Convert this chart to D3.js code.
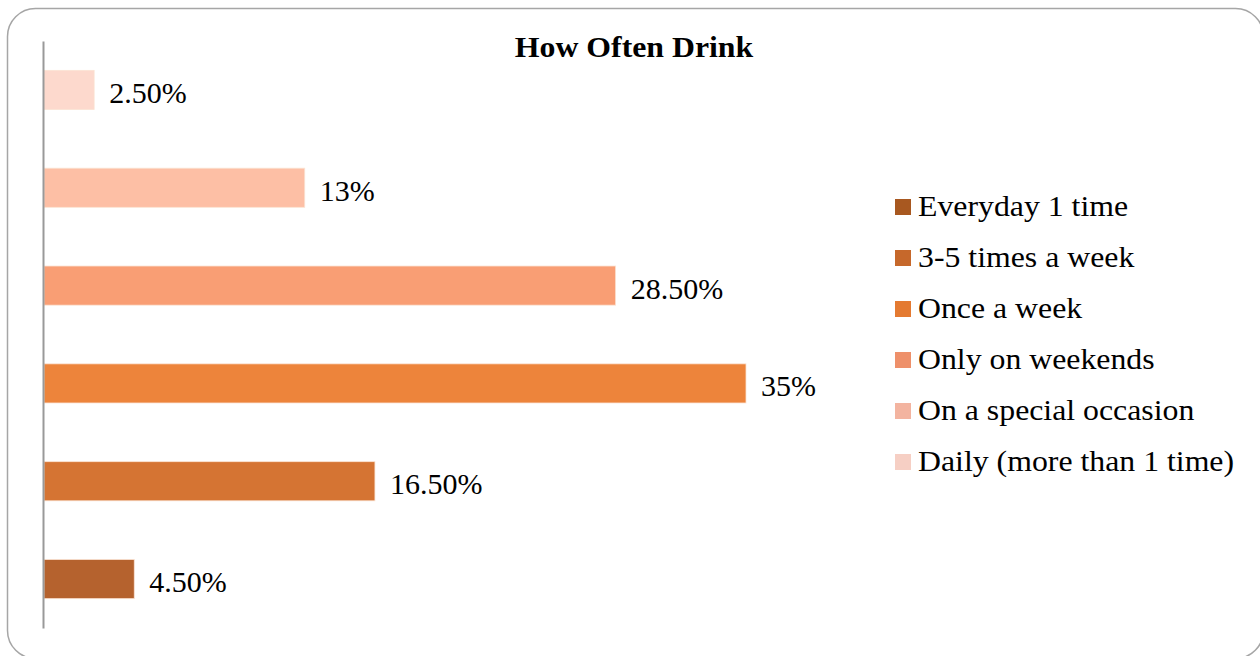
<!DOCTYPE html>
<html>
<head>
<meta charset="utf-8">
<script src="https://cdn.jsdelivr.net/npm/d3@7"></script>
<style>
  html, body { margin: 0; padding: 0; background: #fff; }
  svg { display: block; }
</style>
</head>
<body>
<svg id="chart" width="1260" height="656"></svg>
<script>
// Survey answers, listed in legend order (bottom bar first)
const categories = [
  "Everyday 1 time",
  "3-5 times a week",
  "Once a week",
  "Only on weekends",
  "On a special occasion",
  "Daily (more than 1 time)"
];
const values = [4.5, 16.5, 35, 28.5, 13, 2.5];
const valueLabels = ["4.50%", "16.50%", "35%", "28.50%", "13%", "2.50%"];
const barColors = ["#b5622e", "#d57433", "#ed843b", "#f99e74", "#fdbfa5", "#fdd9cd"];
const swatchColors = ["#a85820", "#c6682b", "#e47a31", "#ee906a", "#f3b4a0", "#f6cfc4"];
const title = "How Often Drink";

const svg = d3.select("#chart");
const serif = "'Liberation Serif', 'Times New Roman', serif";

// rounded frame
svg.append("rect")
  .attr("x", 7.5).attr("y", 8.5)
  .attr("width", 1256).attr("height", 650)
  .attr("rx", 28).attr("ry", 28)
  .attr("fill", "#fff")
  .attr("stroke", "#a6a6a6")
  .attr("stroke-width", 1.5);

const x = d3.scaleLinear().domain([0, 35]).range([44, 746]);
// bottom bar is the first category, so the band range runs upward
const y = d3.scaleBand()
  .domain(categories)
  .range([628, 41])
  .paddingInner(0.6)
  .paddingOuter(0.3);

svg.append("text")
  .attr("transform", "translate(634,57) scale(1.06,1)")
  .attr("text-anchor", "middle")
  .attr("font-family", serif)
  .attr("font-weight", "bold")
  .attr("font-size", 30)
  .attr("fill", "#000")
  .text(title);

const rows = categories.map((c, i) => ({ c, v: values[i], label: valueLabels[i], color: barColors[i] }));

svg.selectAll("rect.bar")
  .data(rows)
  .join("rect")
  .attr("class", "bar")
  .attr("x", x(0))
  .attr("y", d => y(d.c))
  .attr("width", d => x(d.v) - x(0))
  .attr("height", y.bandwidth())
  .attr("fill", d => d.color)
  .attr("stroke", "#fbe3d3")
  .attr("stroke-width", 0.8);

svg.selectAll("text.val")
  .data(rows)
  .join("text")
  .attr("class", "val")
  .attr("x", d => x(d.v) + 15)
  .attr("y", d => y(d.c) + y.bandwidth() / 2 + 13)
  .attr("font-family", serif)
  .attr("font-size", 30)
  .attr("fill", "#000")
  .text(d => d.label);

// vertical category axis line
const axis = d3.axisLeft(y).tickSize(0).tickFormat("");
const axisG = svg.append("g").attr("transform", "translate(43,0)").call(axis);
axisG.select(".domain").attr("stroke", "#999").attr("stroke-width", 2);

// legend
const lg = svg.append("g").selectAll("g")
  .data(categories)
  .join("g")
  .attr("transform", (d, i) => `translate(895, ${199 + i * 51})`);
lg.append("rect")
  .attr("width", 16).attr("height", 16)
  .attr("fill", (d, i) => swatchColors[i]);
lg.append("text")
  .attr("transform", "translate(23,17) scale(1.06,1)")
  .attr("font-family", serif)
  .attr("font-size", 30)
  .attr("fill", "#000")
  .text(d => d);
</script>
</body>
</html>
